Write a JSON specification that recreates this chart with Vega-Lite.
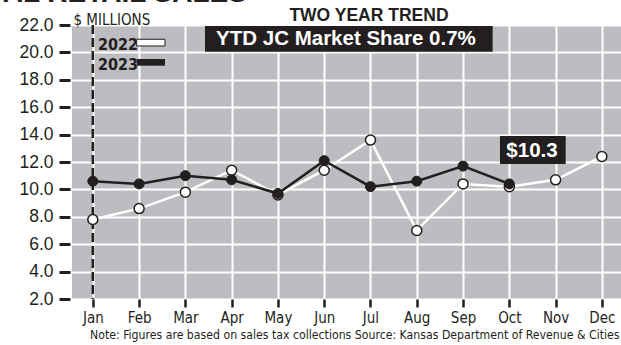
{
  "$schema": "https://vega.github.io/schema/vega-lite/v6.json",
  "width": 553,
  "height": 274,
  "autosize": {"type": "none"},
  "padding": {"left": 72, "top": 25, "right": 0, "bottom": 46},
  "background": "white",
  "view": {"fill": "#bcbdc0", "stroke": null},
  "config": {
    "axisX": {"values": [1,2,3,4,5,6,7,8,9,10,11,12], "labelExpr": "['Jan','Feb','Mar','Apr','May','Jun','Jul','Aug','Sep','Oct','Nov','Dec'][datum.value-1]",
      "domain": false, "grid": true, "gridColor": "white", "gridWidth": 2, "gridOpacity": 1, "labelOverlap": false,
      "tickColor": "#231f20", "tickWidth": 2.5, "tickSize": 8, "labelFont": "DejaVu Sans Condensed", "labelFontSize": 15, "labelColor": "#231f20", "labelPadding": 3,
      "titleFont": "DejaVu Sans Condensed", "titleFontSize": 12.2, "titleFontWeight": "normal", "titleColor": "#231f20", "titlePadding": 3, "titleX": 547, "titleAnchor": "end", "titleAlign": "right"},
    "axisY": {"values": [2,4,6,8,10,12,14,16,18,20,22], "format": ".1f", "domain": false, "grid": true, "gridColor": "white", "gridWidth": 2, "gridOpacity": 1, "labelOverlap": false,
      "offset": 2, "tickColor": "#231f20", "tickWidth": 3, "tickSize": 11, "labelFont": "Liberation Sans", "labelFontSize": 17.5, "labelColor": "#231f20", "labelPadding": 6,
      "titleAngle": 0, "titleX": 3, "titleY": -1, "titleAlign": "left", "titleBaseline": "alphabetic", "titleFont": "DejaVu Sans Condensed", "titleFontSize": 15, "titleFontWeight": "normal", "titleColor": "#231f20"}
  },
  "datasets": {
    "sales": [
      {"month": 1, "year": "2022", "value": 7.8},
      {"month": 2, "year": "2022", "value": 8.6},
      {"month": 3, "year": "2022", "value": 9.8},
      {"month": 4, "year": "2022", "value": 11.4},
      {"month": 5, "year": "2022", "value": 9.6},
      {"month": 6, "year": "2022", "value": 11.4},
      {"month": 7, "year": "2022", "value": 13.6},
      {"month": 8, "year": "2022", "value": 7.0},
      {"month": 9, "year": "2022", "value": 10.4},
      {"month": 10, "year": "2022", "value": 10.2},
      {"month": 11, "year": "2022", "value": 10.7},
      {"month": 12, "year": "2022", "value": 12.4},
      {"month": 1, "year": "2023", "value": 10.6},
      {"month": 2, "year": "2023", "value": 10.4},
      {"month": 3, "year": "2023", "value": 11.0},
      {"month": 4, "year": "2023", "value": 10.7},
      {"month": 5, "year": "2023", "value": 9.7},
      {"month": 6, "year": "2023", "value": 12.1},
      {"month": 7, "year": "2023", "value": 10.2},
      {"month": 8, "year": "2023", "value": 10.6},
      {"month": 9, "year": "2023", "value": 11.7},
      {"month": 10, "year": "2023", "value": 10.4}
    ],
    "one": [{"k": 1}]
  },
  "layer": [
    {
      "data": {"name": "sales"},
      "transform": [{"filter": "datum.year == '2022'"}],
      "mark": {"type": "line", "color": "white", "strokeWidth": 2.5},
      "encoding": {
        "x": {"field": "month", "type": "quantitative", "scale": {"domain": [0.55, 12.5], "nice": false, "zero": false},
          "axis": {"title": "Note: Figures are based on sales tax collections  Source: Kansas Department of Revenue & Cities", "values": [1,2,3,4,5,6,7,8,9,10,11,12]}},
        "y": {"field": "value", "type": "quantitative", "scale": {"domain": [2, 22], "nice": false, "zero": false},
          "axis": {"title": "$ MILLIONS", "values": [2,4,6,8,10,12,14,16,18,20,22], "labelOverlap": false}}
      }
    },
    {
      "data": {"name": "one"},
      "mark": {"type": "rule", "color": "#231f20", "strokeWidth": 2.5, "strokeDash": [9, 4], "clip": false},
      "encoding": {
        "x": {"datum": 1, "type": "quantitative", "axis": {"title": "Note: Figures are based on sales tax collections  Source: Kansas Department of Revenue & Cities", "values": [1,2,3,4,5,6,7,8,9,10,11,12]}},
        "y": {"datum": 22, "type": "quantitative", "axis": {"title": "$ MILLIONS", "values": [2,4,6,8,10,12,14,16,18,20,22], "labelOverlap": false}},
        "y2": {"datum": 2}
      }
    },
    {
      "data": {"name": "sales"},
      "transform": [{"filter": "datum.year == '2022'"}],
      "mark": {"type": "point", "filled": true, "fill": "white", "stroke": "#231f20", "strokeWidth": 1.5, "size": 100, "opacity": 1},
      "encoding": {
        "x": {"field": "month", "type": "quantitative", "axis": {"title": "Note: Figures are based on sales tax collections  Source: Kansas Department of Revenue & Cities", "values": [1,2,3,4,5,6,7,8,9,10,11,12]}},
        "y": {"field": "value", "type": "quantitative", "axis": {"title": "$ MILLIONS", "values": [2,4,6,8,10,12,14,16,18,20,22], "labelOverlap": false}}
      }
    },
    {
      "data": {"name": "sales"},
      "transform": [{"filter": "datum.year == '2023'"}],
      "mark": {"type": "line", "color": "#231f20", "strokeWidth": 2.5},
      "encoding": {
        "x": {"field": "month", "type": "quantitative", "axis": {"title": "Note: Figures are based on sales tax collections  Source: Kansas Department of Revenue & Cities", "values": [1,2,3,4,5,6,7,8,9,10,11,12]}},
        "y": {"field": "value", "type": "quantitative", "axis": {"title": "$ MILLIONS", "values": [2,4,6,8,10,12,14,16,18,20,22], "labelOverlap": false}}
      }
    },
    {
      "data": {"name": "sales"},
      "transform": [{"filter": "datum.year == '2023'"}],
      "mark": {"type": "point", "filled": true, "fill": "#231f20", "stroke": "#231f20", "strokeWidth": 1, "size": 100, "opacity": 1},
      "encoding": {
        "x": {"field": "month", "type": "quantitative", "axis": {"title": "Note: Figures are based on sales tax collections  Source: Kansas Department of Revenue & Cities", "values": [1,2,3,4,5,6,7,8,9,10,11,12]}},
        "y": {"field": "value", "type": "quantitative", "axis": {"title": "$ MILLIONS", "values": [2,4,6,8,10,12,14,16,18,20,22], "labelOverlap": false}}
      }
    },
    {
      "data": {"name": "one"},
      "mark": {"type": "text", "text": "TOTAL RETAIL SALES", "color": "#231f20", "font": "Liberation Sans", "fontSize": 28, "fontWeight": "bold", "align": "right", "baseline": "alphabetic", "clip": false},
      "encoding": {
        "x": {"datum": 4.331, "type": "quantitative", "axis": {"title": "Note: Figures are based on sales tax collections  Source: Kansas Department of Revenue & Cities", "values": [1,2,3,4,5,6,7,8,9,10,11,12]}},
        "y": {"datum": 23.7, "type": "quantitative", "axis": {"title": "$ MILLIONS", "values": [2,4,6,8,10,12,14,16,18,20,22], "labelOverlap": false}}
      }
    },
    {
      "data": {"name": "one"},
      "mark": {"type": "text", "text": "TWO YEAR TREND", "color": "#231f20", "font": "Liberation Sans", "fontSize": 17.5, "fontWeight": "bold", "align": "center", "baseline": "alphabetic", "clip": false},
      "encoding": {
        "x": {"datum": 6.967, "type": "quantitative", "axis": {"title": "Note: Figures are based on sales tax collections  Source: Kansas Department of Revenue & Cities", "values": [1,2,3,4,5,6,7,8,9,10,11,12]}},
        "y": {"datum": 22.29, "type": "quantitative", "axis": {"title": "$ MILLIONS", "values": [2,4,6,8,10,12,14,16,18,20,22], "labelOverlap": false}}
      }
    },
    {
      "data": {"name": "one"},
      "mark": {"type": "rect", "color": "#231f20"},
      "encoding": {
        "x": {"datum": 3.424, "type": "quantitative", "axis": {"title": "Note: Figures are based on sales tax collections  Source: Kansas Department of Revenue & Cities", "values": [1,2,3,4,5,6,7,8,9,10,11,12]}},
        "x2": {"datum": 9.64},
        "y": {"datum": 21.93, "type": "quantitative", "axis": {"title": "$ MILLIONS", "values": [2,4,6,8,10,12,14,16,18,20,22], "labelOverlap": false}},
        "y2": {"datum": 20.04}
      }
    },
    {
      "data": {"name": "one"},
      "mark": {"type": "text", "text": "YTD JC Market Share 0.7%", "color": "white", "font": "Liberation Sans", "fontSize": 20.5, "fontWeight": "bold", "align": "center", "baseline": "alphabetic"},
      "encoding": {
        "x": {"datum": 6.47, "type": "quantitative", "axis": {"title": "Note: Figures are based on sales tax collections  Source: Kansas Department of Revenue & Cities", "values": [1,2,3,4,5,6,7,8,9,10,11,12]}},
        "y": {"datum": 20.54, "type": "quantitative", "axis": {"title": "$ MILLIONS", "values": [2,4,6,8,10,12,14,16,18,20,22], "labelOverlap": false}}
      }
    },
    {
      "data": {"name": "one"},
      "mark": {"type": "rect", "color": "#231f20"},
      "encoding": {
        "x": {"datum": 9.798, "type": "quantitative", "axis": {"title": "Note: Figures are based on sales tax collections  Source: Kansas Department of Revenue & Cities", "values": [1,2,3,4,5,6,7,8,9,10,11,12]}},
        "x2": {"datum": 11.218},
        "y": {"datum": 13.9, "type": "quantitative", "axis": {"title": "$ MILLIONS", "values": [2,4,6,8,10,12,14,16,18,20,22], "labelOverlap": false}},
        "y2": {"datum": 11.85}
      }
    },
    {
      "data": {"name": "one"},
      "mark": {"type": "text", "text": "$10.3", "color": "white", "font": "Liberation Sans", "fontSize": 20.5, "fontWeight": "bold", "align": "center", "baseline": "alphabetic"},
      "encoding": {
        "x": {"datum": 10.49, "type": "quantitative", "axis": {"title": "Note: Figures are based on sales tax collections  Source: Kansas Department of Revenue & Cities", "values": [1,2,3,4,5,6,7,8,9,10,11,12]}},
        "y": {"datum": 12.39, "type": "quantitative", "axis": {"title": "$ MILLIONS", "values": [2,4,6,8,10,12,14,16,18,20,22], "labelOverlap": false}}
      }
    },
    {
      "data": {"name": "one"},
      "mark": {"type": "text", "text": "2022", "color": "#231f20", "font": "DejaVu Sans Condensed", "fontSize": 16, "fontWeight": "bold", "align": "left", "baseline": "alphabetic"},
      "encoding": {
        "x": {"datum": 1.112, "type": "quantitative", "axis": {"title": "Note: Figures are based on sales tax collections  Source: Kansas Department of Revenue & Cities", "values": [1,2,3,4,5,6,7,8,9,10,11,12]}},
        "y": {"datum": 20.18, "type": "quantitative", "axis": {"title": "$ MILLIONS", "values": [2,4,6,8,10,12,14,16,18,20,22], "labelOverlap": false}}
      }
    },
    {
      "data": {"name": "one"},
      "mark": {"type": "text", "text": "2023", "color": "#231f20", "font": "DejaVu Sans Condensed", "fontSize": 16, "fontWeight": "bold", "align": "left", "baseline": "alphabetic"},
      "encoding": {
        "x": {"datum": 1.112, "type": "quantitative", "axis": {"title": "Note: Figures are based on sales tax collections  Source: Kansas Department of Revenue & Cities", "values": [1,2,3,4,5,6,7,8,9,10,11,12]}},
        "y": {"datum": 18.72, "type": "quantitative", "axis": {"title": "$ MILLIONS", "values": [2,4,6,8,10,12,14,16,18,20,22], "labelOverlap": false}}
      }
    },
    {
      "data": {"name": "one"},
      "mark": {"type": "rect", "fill": "white", "stroke": "#231f20", "strokeWidth": 1},
      "encoding": {
        "x": {"datum": 1.948, "type": "quantitative", "axis": {"title": "Note: Figures are based on sales tax collections  Source: Kansas Department of Revenue & Cities", "values": [1,2,3,4,5,6,7,8,9,10,11,12]}},
        "x2": {"datum": 2.56},
        "y": {"datum": 20.96, "type": "quantitative", "axis": {"title": "$ MILLIONS", "values": [2,4,6,8,10,12,14,16,18,20,22], "labelOverlap": false}},
        "y2": {"datum": 20.47}
      }
    },
    {
      "data": {"name": "one"},
      "mark": {"type": "rect", "fill": "#231f20"},
      "encoding": {
        "x": {"datum": 1.948, "type": "quantitative", "axis": {"title": "Note: Figures are based on sales tax collections  Source: Kansas Department of Revenue & Cities", "values": [1,2,3,4,5,6,7,8,9,10,11,12]}},
        "x2": {"datum": 2.56},
        "y": {"datum": 19.52, "type": "quantitative", "axis": {"title": "$ MILLIONS", "values": [2,4,6,8,10,12,14,16,18,20,22], "labelOverlap": false}},
        "y2": {"datum": 19.03}
      }
    }
  ]
}
